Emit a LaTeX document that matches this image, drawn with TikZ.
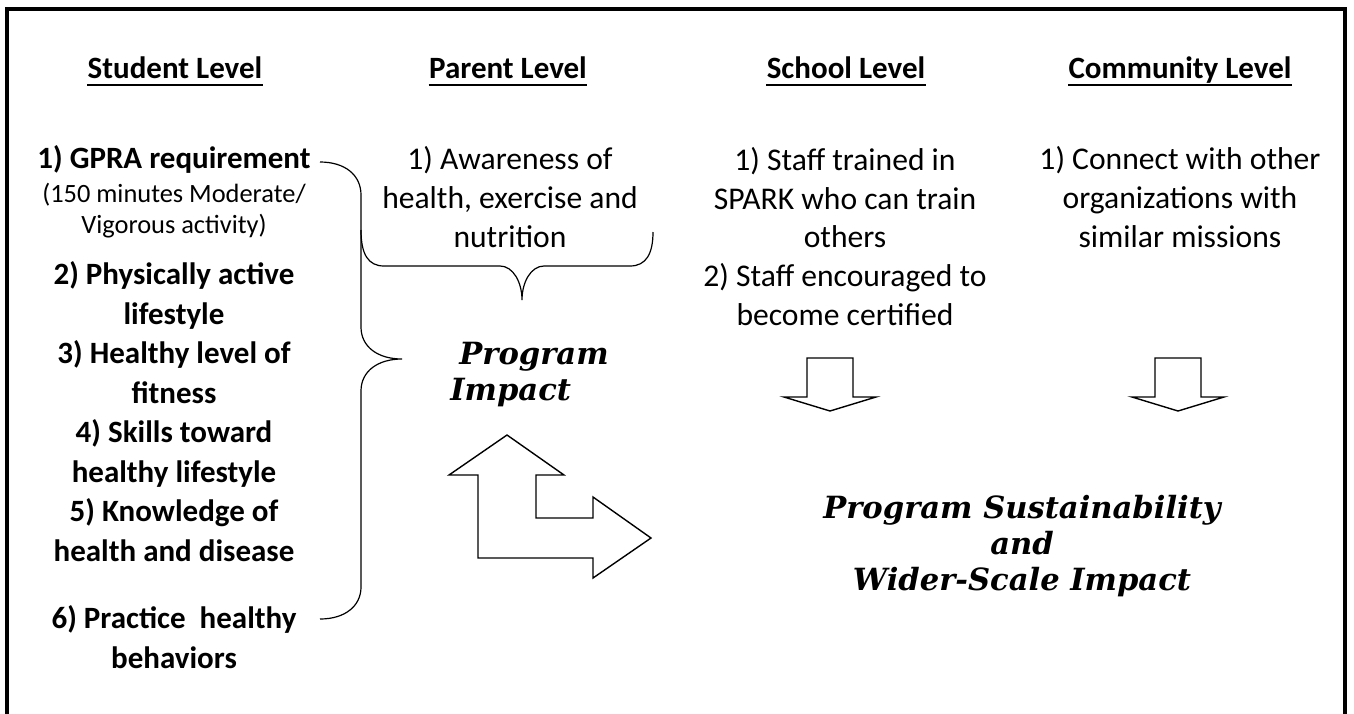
\documentclass[tikz,border=0pt]{standalone}
\usepackage{fontspec}
\setmainfont{Carlito}
\newfontfamily\impactfont{DejaVu Serif}

\begin{document}
\begin{tikzpicture}[x=0.5pt,y=-0.5pt]
				\tikzstyle{levelhead}=[font={\bfseries\fontsize{15.5}{19.5}\selectfont},anchor=base,inner sep=0pt]
				\tikzstyle{studentitem}=[font={\bfseries\fontsize{15.5}{19.7}\selectfont},align=center,anchor=base,inner sep=0pt]
				\tikzstyle{smallnote}=[font={\fontsize{13.2}{15.5}\selectfont},align=center,anchor=base,inner sep=0pt]
				\tikzstyle{levelitem}=[font={\fontsize{15.8}{19.3}\selectfont},align=center,anchor=base,inner sep=0pt]
				\tikzstyle{outcome}=[font={\impactfont\bfseries\itshape\fontsize{15.3}{18}\selectfont},anchor=base,inner sep=0pt]
				\tikzstyle{brace}=[line width=0.6pt]
				\tikzstyle{blockarrow}=[line width=0.7pt]
				
				\useasboundingbox (0,0) rectangle (1354,713);
				\draw[line width=1.8pt] (7,735) -- (7,9) -- (1345,9) -- (1345,735);
				
				% column heads
				\node[levelhead] (stud) at (175,78) {Student Level};
				\node[levelhead] (par) at (508,78) {Parent Level};
				\node[levelhead] (sch) at (846,78) {School Level};
				\node[levelhead] (com) at (1180,78) {Community Level};
				\foreach \h in {stud,par,sch,com}
					\draw[line width=1.2pt] ([yshift=-3.5pt]\h.base west) -- ([yshift=-3.5pt]\h.base east);
				
				% student level (y is the baseline of the last line)
				\node[studentitem] (s1) at (174,168) {1) GPRA requirement};
				\node[smallnote] (s1n) at (174,233) {(150 minutes Moderate/\\Vigorous activity)};
				\node[studentitem] (s2) at (174,324) {2) Physically active\\lifestyle};
				\node[studentitem] (s3) at (174,403) {3) Healthy level of\\fitness};
				\node[studentitem] (s4) at (174,482) {4) Skills toward\\healthy lifestyle};
				\node[studentitem] (s5) at (174,561) {5) Knowledge of\\health and disease};
				\node[studentitem] (s6) at (174,668) {6) Practice\ \ healthy\\behaviors};
				
				% other levels
				\node[levelitem] (p1) at (510,247) {1) Awareness of\\health, exercise and\\nutrition};
				\node[levelitem] (c1) at (845,325) {1) Staff trained in\\SPARK who can train\\others\\2) Staff encouraged to\\become certified};
				\node[levelitem] (m1) at (1180,247) {1) Connect with other\\organizations with\\similar missions};
				
				\node[outcome,align=left,anchor=base west] (impact) at (450,400) {\hspace{4.5pt}Program\\Impact};
				\node[outcome,align=center] (sustain) at (1022,590) {Program Sustainability\\and\\Wider-Scale Impact};
				
				% braces
				\draw[brace] (320,162) .. controls (345,162) and (361,175) .. (361,195) -- (361,327)
					.. controls (361,347) and (378,359) .. (402,359)
					.. controls (378,359) and (361,371) .. (361,391) -- (361,587)
					.. controls (361,606) and (345,619) .. (320,619);
				\draw[brace] (361,230) .. controls (361,254) and (368,266) .. (384,266) -- (500,266)
					.. controls (513,266) and (522,282) .. (522,300)
					.. controls (522,282) and (531,266) .. (544,266) -- (630,266)
					.. controls (646,266) and (653,254) .. (653,232);
				
				% block arrows
				\draw[blockarrow] (507,435) -- (564,475) -- (536,475) -- (536,518) -- (593,518) -- (593,497) -- (651,538)
					-- (593,578) -- (593,558) -- (478,558) -- (478,475) -- (449,475) -- cycle;
				\foreach \cx in {830,1178}
					\draw[blockarrow] (\cx-23,358) -- (\cx+23,358) -- (\cx+23,397) -- (\cx+46,397) -- (\cx,411)
						-- (\cx-46,397) -- (\cx-23,397) -- cycle;
\end{tikzpicture}
\end{document}
